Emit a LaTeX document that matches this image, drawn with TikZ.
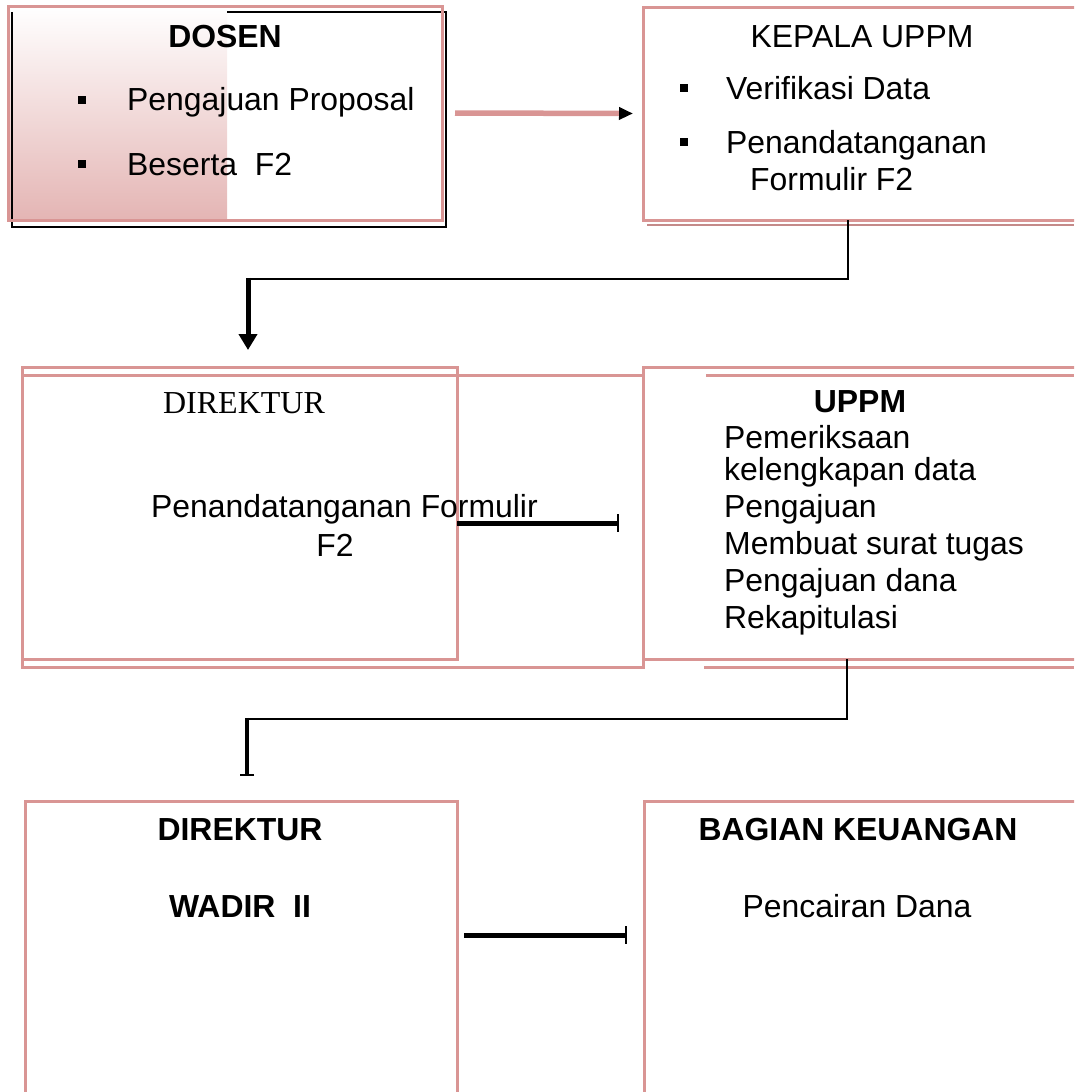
\documentclass[tikz,border=0pt]{standalone}
\usepackage{fontspec}
\setmainfont{Liberation Sans}
\newfontfamily\timesf{Liberation Serif}
\usetikzlibrary{arrows.meta,calc}
\definecolor{boxpink}{HTML}{D99594}
\definecolor{shadowpink}{HTML}{C48A89}
\definecolor{gradpink}{HTML}{E4B5B4}
\begin{document}
\begin{tikzpicture}[x=1pt,y=-1pt,
  box/.style={draw=boxpink, line width=3pt, inner sep=0pt, outer sep=0pt},
  txt/.style={font=\fontsize{31.9}{36.8}\selectfont, inner sep=0pt, anchor=base west},
  ctxt/.style={font=\fontsize{31.9}{36.8}\selectfont, inner sep=0pt, anchor=base},
  btxt/.style={font=\fontsize{31.9}{36.8}\selectfont\bfseries, inner sep=0pt, anchor=base},
  bullet/.style={fill=black, minimum size=8pt, inner sep=0pt},
  thinconn/.style={draw=black, line width=2.5pt},
  thickconn/.style={draw=black, line width=5pt},
  barend/.style={-{Bar[width=18pt,line width=2pt]}}
]
\useasboundingbox (0,0) rectangle (1074,1092);
\clip (0,0) rectangle (1074,1092);

% ---------- DOSEN box ----------
\shade[top color=white, bottom color=gradpink] (8,6) rectangle (227,220);
\draw[black, line width=2.5pt] (12,12) -- (12,227) -- (446,227) -- (446,12) -- (227,12);
\node[box, minimum width=434pt, minimum height=214pt] (dosen) at (225,113) {};

% ---------- KEPALA UPPM box ----------
\draw[shadowpink, line width=2.5pt] (647,225) -- (1074,225);
\node[box, fill=white, minimum width=457pt, minimum height=213pt] (kepala) at (871.5,113.5) {};

% ---------- middle row ----------
\node[box, minimum width=621pt, minimum height=292pt] (dirB) at (332.5,521) {};
\node[box, minimum width=435pt, minimum height=292pt] (dirA) at (239.5,513) {};
\node[box, fill=white, minimum width=457pt, minimum height=292pt] (uppm) at (871.5,513) {};
\draw[boxpink, line width=3pt] (706,375) -- (1074,375);
\draw[boxpink, line width=3pt] (704,667) -- (1074,667);

% ---------- bottom row ----------
\node[box, minimum width=432pt, minimum height=299pt] (wadir) at (241,950.5) {};
\node[box, minimum width=456pt, minimum height=299pt] (bagian) at (872,950.5) {};

% ---------- connectors ----------
\draw[boxpink, line width=5.5pt, -{Triangle[color=black, length=14pt, width=12pt]}]
  ([xshift=13pt]dosen.east) -- ([xshift=-10pt]kepala.west);

\coordinate (c1) at (248,279);
\draw[thinconn] ([xshift=205pt]kepala.south west) |- (c1);
\draw[thickconn, -{Triangle[length=16pt, width=18pt]}] ([yshift=1.2pt]c1) -- ([xshift=226pt,yshift=17pt]dirA.north west);

\draw[thickconn, barend] ([yshift=-10pt]dirA.east) -- ([xshift=-24pt,yshift=-10pt]uppm.west);

\coordinate (c2) at (247,719);
\draw[thinconn] ([xshift=204pt]uppm.south west) |- (c2);
\draw[draw=black, line width=3.5pt, -{Bar[width=14pt,line width=2pt]}] ([yshift=1.2pt]c2) -- ([xshift=222pt,yshift=25pt]wadir.north west);

\draw[thickconn, barend] ([xshift=7pt,yshift=15.5pt]wadir.east) -- ([xshift=-17pt,yshift=15.5pt]bagian.west);

% ---------- texts ----------
\node[btxt] (tdosen) at (225,47) {DOSEN};
\node[bullet] (b1) at (82,100) {};
\node[txt] (t1) at (127,110) {Pengajuan Proposal};
\node[bullet] (b2) at (82,164) {};
\node[txt] (t2) at (127,175) {Beserta\ \ F2};

\node[ctxt] (tkep) at (862,47) {KEPALA UPPM};
\node[bullet] (b3) at (684,88) {};
\node[txt] (t3) at (726,99) {Verifikasi Data};
\node[bullet] (b4) at (684,142) {};
\node[txt] (t4) at (726,153) {Penandatanganan};
\node[txt] (t5) at (750,190) {Formulir F2};

\node[inner sep=0pt, anchor=base, font=\timesf\fontsize{32}{36}\selectfont] (tdir1) at (244,413) {DIREKTUR};
\node[txt] (t6) at (151,517) {Penandatanganan Formulir};
\node[ctxt] (t7) at (335,556) {F2};

\node[btxt] (tuppm) at (860,412) {UPPM};
\node[txt] (u1) at (724,448) {Pemeriksaan};
\node[txt] (u2) at (724,480) {kelengkapan data};
\node[txt] (u3) at (724,517) {Pengajuan};
\node[txt] (u4) at (724,554) {Membuat surat tugas};
\node[txt] (u5) at (724,591) {Pengajuan dana};
\node[txt] (u6) at (724,628) {Rekapitulasi};

\node[btxt] (tdir2) at (240,840) {DIREKTUR};
\node[btxt] (twadir) at (240,917) {WADIR\ \ II};
\node[btxt] (tbag) at (858,840) {BAGIAN KEUANGAN};
\node[ctxt] (tcair) at (857,917) {Pencairan Dana};
\end{tikzpicture}
\end{document}
